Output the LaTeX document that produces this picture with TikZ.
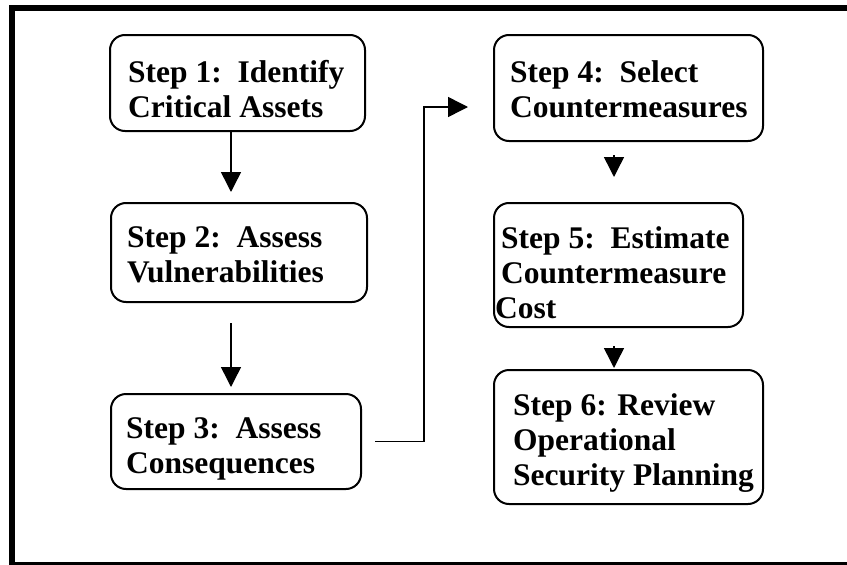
\documentclass[tikz,border=0pt]{standalone}
\usepackage{fontspec}
\setmainfont{Liberation Serif}
\usetikzlibrary{arrows.meta}
\begin{document}
\begin{tikzpicture}[x=1pt,y=-1pt,
  box/.style={draw, line width=2pt, rounded corners=15pt, inner sep=0pt},
  txt/.style={anchor=north west, align=left, inner sep=0pt, font=\fontsize{31.5}{35}\selectfont\bfseries},
  arr/.style={line width=1.5pt, -{Triangle[width=20pt,length=20pt]}}]
\useasboundingbox (0,0) rectangle (847,565);
\fill[white] (0,0) rectangle (847,565);
\draw[line width=6pt] (12,8) rectangle (853,565);
% boxes
\node[box, minimum width=255pt, minimum height=96pt]  (b1) at (237.5,83) {};
\node[box, minimum width=256pt, minimum height=99pt]  (b2) at (239,252.5) {};
\node[box, minimum width=250pt, minimum height=95pt]  (b3) at (236,441.5) {};
\node[box, minimum width=269pt, minimum height=106pt] (b4) at (628.5,88) {};
\node[box, minimum width=249pt, minimum height=124pt] (b5) at (618.5,265) {};
\node[box, minimum width=269pt, minimum height=134pt] (b6) at (628.5,437) {};
% texts
\node[txt] (t1) at (128,60)  {Step 1:\ \ Identify\\Critical Assets};
\node[txt] (t2) at (127,226) {Step 2:\ \ Assess\\Vulnerabilities};
\node[txt] (t3) at (126,417) {Step 3:\ \ Assess\\Consequences};
\node[txt] (t4) at (510,60)  {Step 4:\ \ Select\\Countermeasures};
\node[txt] (t5) at (501,226) {Step 5:\ \ Estimate\\Countermeasure\\\hspace*{-6pt}Cost};
\node[txt] (t6) at (513,393) {Step 6: Review\\Operational\\Security Planning};
% connectors
\draw[arr, shorten >=10pt] ([xshift=-6.5pt]b1.south) -- ([xshift=-6.5pt]b1.south |- b2.north);
\draw[arr, shorten <=20pt, shorten >=6pt] ([xshift=-8pt]b2.south) -- ([xshift=-8pt]b2.south |- b3.north);
\draw[arr, shorten >=25pt] ([xshift=13pt]b3.east) -- ++(49,0) |- ([yshift=-19pt]b4.west);
\draw[arr, shorten <=13pt, shorten >=25pt] ([xshift=-14.5pt]b4.south) -- ([xshift=-14.5pt]b4.south |- b5.north);
\draw[arr, shorten <=18pt, shorten >=1pt] ([xshift=-4.5pt]b5.south) -- ([xshift=-4.5pt]b5.south |- b6.north);
\end{tikzpicture}
\end{document}
